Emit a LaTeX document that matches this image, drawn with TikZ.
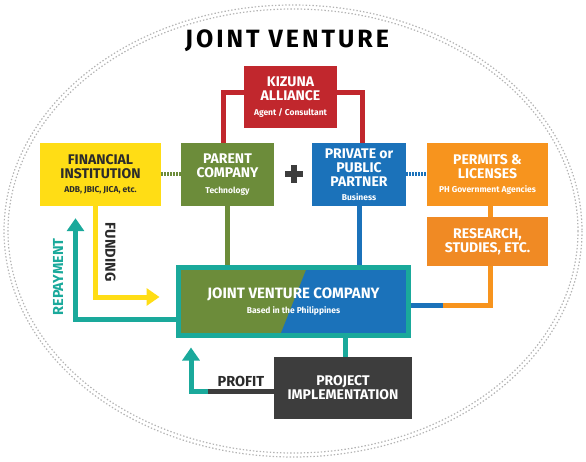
\documentclass[tikz,border=0pt]{standalone}
\usepackage{fontspec}
\setmainfont{Fira Sans}
\usetikzlibrary{arrows.meta,backgrounds,calc}

\definecolor{kzred}{HTML}{C1272D}
\definecolor{fiyellow}{HTML}{FFDD15}
\definecolor{pcgreen}{HTML}{6C8C3A}
\definecolor{ppblue}{HTML}{1B72BA}
\definecolor{plorange}{HTML}{F7941E}
\definecolor{rsorange}{HTML}{F08A24}
\definecolor{jvteal}{HTML}{1AA99B}
\definecolor{pidark}{HTML}{3D3D3D}
\definecolor{txtdark}{HTML}{2B2B2B}
\definecolor{dotgray}{HTML}{B4B4B4}

\newcommand{\boxtitle}{\fontsize{14}{14}\selectfont\bfseries}
\newcommand{\boxsub}{\fontsize{8.5}{10}\selectfont\bfseries}

\begin{document}
\begin{tikzpicture}[x=1pt,y=-1pt,line join=miter,
  block/.style={rectangle, inner sep=0pt, minimum height=63pt, align=center, text=white, font=\boxtitle},
  jvbox/.style={block, draw=jvteal, line width=5pt, fill=pcgreen, minimum width=230pt, minimum height=68pt,
    font=\fontsize{15}{15}\selectfont\bfseries,
    path picture={\fill[ppblue] ([xshift=13.5pt]path picture bounding box.north) -- (path picture bounding box.north east)
      -- (path picture bounding box.south east) -- ([xshift=-13.5pt]path picture bounding box.south) -- cycle;}},
  link/.style={line width=5pt},
  dotlink/.style={line width=4pt, dash pattern=on 1.5pt off 1.5pt},
  flowarrow/.style={line width=5pt, -{Triangle[length=13pt,width=17pt]}},
  lbl/.style={font=\fontsize{14.5}{14.5}\selectfont\bfseries}]
\useasboundingbox (0,0) rectangle (586,462);

\draw (287,41) node[font=\fontsize{25}{25}\selectfont\bfseries\addfontfeatures{LetterSpace=12}, text=black] (title) {JOINT VENTURE};

\draw (290.5,97) node[block, fill=kzred, minimum width=93pt, minimum height=62pt] (KA) {KIZUNA\\ALLIANCE\\[1pt]{\boxsub Agent / Consultant}};
\draw (100.5,174.5) node[block, fill=fiyellow, text=txtdark, minimum width=121pt] (FI) {FINANCIAL\\INSTITUTION\\[0pt]{\boxsub ADB, JBIC, JICA, etc.}};
\draw (227.5,174.5) node[block, fill=pcgreen, minimum width=93pt] (PC) {PARENT\\COMPANY\\[2pt]{\boxsub Technology}};
\draw [line width=6pt, pidark] (285,174) -- (303,174) (294,165) -- (294,183);
\draw (359,174.5) node[block, fill=ppblue, minimum width=94pt] (PP) {PRIVATE or\\PUBLIC\\PARTNER\\[0pt]{\boxsub Business}};
\draw (487.5,174.5) node[block, fill=plorange, minimum width=121pt] (PL) {PERMITS \&\\LICENSES\\[0pt]{\boxsub PH Government Agencies}};
\draw (487.5,241.5) node[block, fill=rsorange, minimum width=121pt, minimum height=49pt] (RS) {RESEARCH,\\STUDIES, ETC.};
\draw (293.5,301.5) node[jvbox] (JV) {JOINT VENTURE COMPANY\\[0pt]{\boxsub Based in the Philippines}};
\draw (343,388) node[block, fill=pidark, minimum width=138pt, minimum height=62pt] (PI) {PROJECT\\IMPLEMENTATION};

\draw [lbl, text=txtdark] (110.5,252) node[rotate=-90] (fundlbl) {FUNDING};
\draw [lbl, text=jvteal] (58,277) node[rotate=90] (paylbl) {REPAYMENT};

\begin{scope}[on background layer]
\draw [dotgray, line width=1.2pt, dash pattern=on 1.4pt off 2pt] (293,231) ellipse [x radius=289, y radius=226];
\draw [dotgray, line width=1.2pt, dash pattern=on 1.4pt off 2pt] (293,231) ellipse [x radius=285, y radius=222];
\draw [link, kzred] ([yshift=4pt]KA.west) -| ([xshift=-4.5pt]PC.north);
\draw [link, kzred] ([yshift=4pt]KA.east) -| ([xshift=3pt]PP.north);
\draw [dotlink, pcgreen] (FI.east) -- (PC.west);
\draw [dotlink, ppblue] (PP.east) -- (PL.west);
\draw [link, pcgreen] (PC.south) -- (PC.south |- JV.north);
\draw [link, ppblue] (PP.south) -- (PP.south |- JV.north);
\draw [link, plorange] ([xshift=2.5pt]PL.south) -- ([xshift=2.5pt]RS.north);
\coordinate (jvr) at (443,305);
\draw [link, plorange] ([xshift=2.5pt]RS.south) |- (jvr);
\draw [link, ppblue] (JV.east |- jvr) -- (jvr);
\draw [flowarrow, fiyellow, shorten >=16.5pt] ([xshift=-5pt]FI.south) |- ([yshift=4.5pt]JV.west);
\draw [flowarrow, jvteal, shorten >=12pt] ([yshift=-18pt]JV.west) -| ([xshift=-25pt]FI.south);
\draw [link, jvteal] ([xshift=2pt]PI.north) -- ([xshift=2pt]PI.north |- JV.south);
\draw [flowarrow, jvteal, shorten >=9.5pt] ([yshift=-3.5pt]PI.west) -| ([xshift=15pt]JV.south west);
\coordinate (pfbend) at (208,384.5);
\draw [link, pidark] ([yshift=-3.5pt]PI.west) -- ([yshift=-3.5pt]PI.west -| pfbend) node[midway, above, lbl, text=txtdark, yshift=-1pt] {PROFIT};
\end{scope}

\end{tikzpicture}
\end{document}
